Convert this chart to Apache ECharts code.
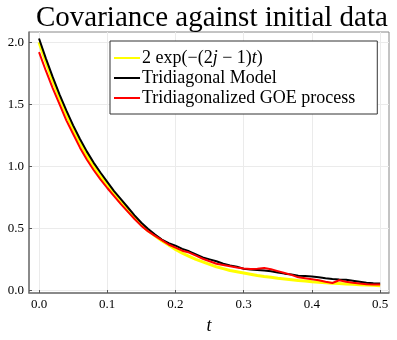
<!DOCTYPE html>
<html>
<head>
<meta charset="utf-8">
<script src="https://cdn.jsdelivr.net/npm/echarts@6/dist/echarts.min.js"></script>
<style>html,body{margin:0;padding:0;background:#fff}#c{width:397px;height:340px}</style>
</head>
<body>
<div id="c"></div>
<script>
// t grid (step 0.01)
const tValues = [0.00,0.01,0.02,0.03,0.04,0.05,0.06,0.07,0.08,0.09,0.10,0.11,0.12,0.13,0.14,0.15,0.16,0.17,0.18,0.19,0.20,0.21,0.22,0.23,0.24,0.25,0.26,0.27,0.28,0.29,0.30,0.31,0.32,0.33,0.34,0.35,0.36,0.37,0.38,0.39,0.40,0.41,0.42,0.43,0.44,0.45,0.46,0.47,0.48,0.49,0.50];
const theoryValues = [2.00,1.84,1.69,1.55,1.42,1.30,1.19,1.09,1.00,0.92,0.85,0.78,0.71,0.645,0.585,0.53,0.48,0.44,0.40,0.365,0.33,0.30,0.275,0.25,0.23,0.21,0.19,0.175,0.16,0.15,0.14,0.13,0.12,0.112,0.105,0.098,0.092,0.086,0.08,0.075,0.07,0.066,0.062,0.058,0.055,0.052,0.049,0.046,0.043,0.041,0.038];
const tridiagValues = [2.03,1.87,1.72,1.58,1.45,1.33,1.22,1.12,1.03,0.95,0.875,0.80,0.735,0.67,0.605,0.545,0.495,0.45,0.41,0.38,0.36,0.335,0.315,0.29,0.265,0.25,0.235,0.215,0.20,0.19,0.175,0.168,0.165,0.16,0.155,0.145,0.135,0.128,0.118,0.115,0.112,0.105,0.098,0.092,0.088,0.086,0.078,0.07,0.062,0.058,0.056];
const goeValues = [1.92,1.77,1.63,1.50,1.37,1.26,1.15,1.055,0.97,0.895,0.825,0.76,0.695,0.635,0.575,0.52,0.475,0.44,0.405,0.37,0.345,0.32,0.305,0.28,0.255,0.235,0.215,0.205,0.195,0.185,0.177,0.172,0.175,0.18,0.17,0.155,0.14,0.125,0.105,0.098,0.09,0.082,0.07,0.06,0.082,0.07,0.062,0.055,0.05,0.048,0.048];
const xTicks = [0,0.1,0.2,0.3,0.4,0.5];
const yTicks = [0,0.5,1.0,1.5,2.0];
const seriesNames = ['theory','Tridiagonal Model','Tridiagonalized GOE process'];
const titleText = 'Covariance against initial data';

const serif = 'Liberation Serif';
const pair = (ys) => tValues.map((t,i)=>[t, ys[i]]);

const chart = echarts.init(document.getElementById('c'), null, {renderer:'canvas'});
chart.setOption({
  animation:false,
  backgroundColor:'#fff',
  title:{text:titleText,left:31,top:-1,textStyle:{fontFamily:serif,fontWeight:'normal',fontSize:29,color:'#000'}},
  grid:{left:29,right:8,top:32,bottom:43,show:true,borderColor:'#888',borderWidth:1,backgroundColor:'transparent'},
  legend:{
    orient:'vertical',left:110,top:41,
    backgroundColor:'#fff',borderColor:'#333',borderWidth:1,borderRadius:0,
    padding:[8,22,7,4],itemGap:2,itemWidth:26,itemHeight:2,icon:'rect',
    textStyle:{fontFamily:serif,fontSize:18,color:'#000',padding:[0,0,0,-3],
      rich:{i:{fontFamily:serif,fontStyle:'italic',fontSize:18,color:'#000'},n:{fontFamily:serif,fontSize:18,color:'#000'}}},
    formatter:function(name){
      if(name==='theory') return '{n|2 exp(−(2}{i|j}{n| − 1)}{i|t}{n|)}';
      return name;
    },
    data:seriesNames
  },
  xAxis:{type:'value',min:-0.0147,max:0.513,
    name:'t',nameLocation:'middle',nameGap:24,
    nameTextStyle:{fontFamily:serif,fontStyle:'italic',fontSize:18,color:'#000'},
    axisLine:{show:true,onZero:false,lineStyle:{color:'#777',width:1.5}},
    axisTick:{show:true,inside:true,length:3,customValues:xTicks,lineStyle:{color:'#555'}},
    axisLabel:{customValues:xTicks,formatter:v=>v.toFixed(1),fontFamily:serif,fontSize:13,color:'#000',margin:5},
    splitLine:{show:true,lineStyle:{color:'#ebebeb',width:1}}
  },
  yAxis:{type:'value',min:-0.021,max:2.082,
    axisLine:{show:true,onZero:false,lineStyle:{color:'#777',width:1.5}},
    axisTick:{show:true,inside:true,length:3,customValues:yTicks,lineStyle:{color:'#555'}},
    axisLabel:{customValues:yTicks,formatter:v=>v.toFixed(1),fontFamily:serif,fontSize:13,color:'#000',margin:5},
    splitLine:{show:true,lineStyle:{color:'#ebebeb',width:1}}
  },
  series:[
    {name:seriesNames[0],type:'line',data:pair(theoryValues),showSymbol:false,color:'#ffff00',lineStyle:{color:'#ffff00',width:3}},
    {name:seriesNames[1],type:'line',data:pair(tridiagValues),showSymbol:false,color:'#000000',lineStyle:{color:'#000',width:2}},
    {name:seriesNames[2],type:'line',data:pair(goeValues),showSymbol:false,color:'#ff0000',lineStyle:{color:'#ff0000',width:2}}
  ]
});
</script>
</body>
</html>
